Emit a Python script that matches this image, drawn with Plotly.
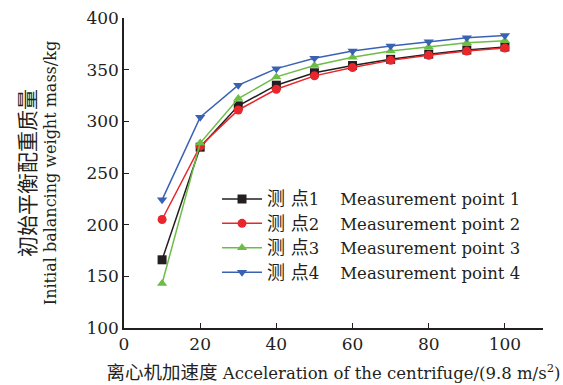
import plotly.graph_objects as go

x_vals = [10, 20, 30, 40, 50, 60, 70, 80, 90, 100]
p1 = [166, 275, 315, 335, 347, 354, 360, 365, 369, 372]
p2 = [205, 276, 311, 331, 344, 352, 359, 364, 368, 371]
p3 = [143, 279, 322, 343, 354, 362, 368, 372, 376, 378]
p4 = [224, 304, 335, 351, 361, 368, 373, 377, 381, 383]
cn_names = ["测 点1", "测 点2", "测 点3", "测 点4"]
en_names = ["Measurement point 1", "Measurement point 2",
            "Measurement point 3", "Measurement point 4"]
colors = ["#231f20", "#e8262b", "#6cbd45", "#3a62b3"]
symbols = ["square", "circle", "triangle-up", "triangle-down"]
series = [p1, p2, p3, p4]

FONT = "DejaVu Serif, Noto Sans CJK SC, serif"
fig = go.Figure()
for ys, cn, en, c, s in zip(series, cn_names, en_names, colors, symbols):
    nm = "<span style='font-size:18px'>" + cn[:-1] + "</span>" + cn[-1] + "\u00a0\u00a0\u00a0\u00a0" + en
    fig.add_trace(go.Scatter(x=x_vals, y=ys, name=nm, mode="lines+markers",
                             line=dict(color=c, width=1.5),
                             marker=dict(symbol=s, size=9, color=c)))

fig.update_layout(
    width=563, height=385,
    margin=dict(l=124, r=20, t=18, b=57),
    plot_bgcolor="white", paper_bgcolor="white",
    font=dict(family=FONT, size=17, color="#231f20"),
    legend=dict(x=0.222, y=0.472, xanchor="left", yanchor="top",
                bgcolor="rgba(0,0,0,0)", font=dict(size=16.5, family=FONT),
                tracegroupgap=0, itemwidth=40),
    xaxis=dict(range=[0, 110], tickvals=[0, 20, 40, 60, 80, 100], automargin=False,
               showline=True, linecolor="#231f20", linewidth=1.5,
               ticks="inside", ticklen=5, tickcolor="#231f20", showgrid=False, zeroline=False,
               title=dict(text="<span style='font-size:18.5px'>离心机加速度</span> Acceleration of the centrifuge/(9.8 m/s<sup>2</sup>)",
                          font=dict(size=16.5), standoff=14)),
    yaxis=dict(range=[100, 400], tickvals=[100, 150, 200, 250, 300, 350, 400], automargin=False,
               showline=True, linecolor="#231f20", linewidth=1.5,
               ticks="inside", ticklen=5, tickcolor="#231f20", showgrid=False, zeroline=False,
               title=dict(text="<span style='font-size:21px'>初始平衡配重质量</span><br>Initial balancing weight mass/kg",
                          font=dict(size=16), standoff=26)),
)
fig.write_html("out.html")
